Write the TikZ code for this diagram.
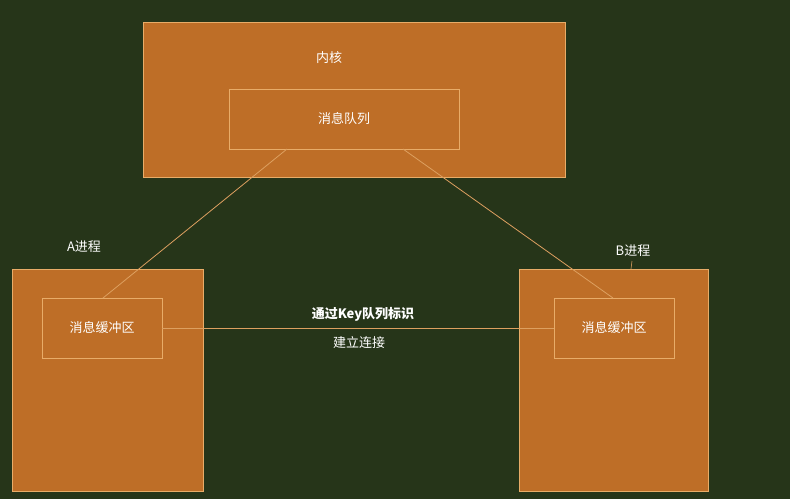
\documentclass[tikz,border=0pt]{standalone}
\usepackage{fontspec}
\setmainfont{Noto Sans CJK SC}
\begin{document}
\begin{tikzpicture}[x=1pt,y=-1pt,
  bigbox/.style={fill=boxc,draw=edgec,line width=0.8pt},
  inbox/.style={draw=edgec,line width=0.6pt},
  conn/.style={draw=linec,line width=0.8pt},
  lbl/.style={text=white,font=\fontsize{13}{15}\selectfont,inner sep=0pt}]
\definecolor{bgc}{HTML}{263519}
\definecolor{boxc}{HTML}{BE6E27}
\definecolor{edgec}{HTML}{E8AC68}
\definecolor{linec}{HTML}{DDA060}
\fill[bgc] (0,0) rectangle (790,499);
\useasboundingbox (0,0) rectangle (790,499);
\path[bigbox] (143,22) rectangle (565,177);
\path[bigbox] (12,269) rectangle (203,491);
\path[bigbox] (519,269) rectangle (708,491);
\node[inbox,minimum width=230,minimum height=60,lbl] (q) at (344,119) {消息队列};
\node[inbox,minimum width=120,minimum height=60,lbl] (ba) at (102,328) {消息缓冲区};
\node[inbox,minimum width=120,minimum height=60,lbl] (bb) at (614,328) {消息缓冲区};
\node[lbl] (k) at (329,58) {内核};
\node[lbl] (pa) at (84,247) {A进程};
\node[lbl] (pb) at (633,251) {B进程};
\coordinate (qa) at (287,149);
\coordinate (qb) at (403,149);
\coordinate (bat) at (103,298);
\coordinate (bbt) at (613,298);
\draw[conn] (qa) -- (bat);
\draw[conn] (qb) -- (bbt);
\draw[conn] (ba.east) -- (bb.west);
\coordinate (t1) at (632,261);
\coordinate (t2) at (631,269);
\draw[conn,line width=0.6pt] (t1) -- (t2);
\node[lbl,font=\bfseries\fontsize{13}{15}\selectfont] (l1) at (363,314) {通过Key队列标识};
\node[lbl] (l2) at (359,343) {建立连接};
\end{tikzpicture}
\end{document}
